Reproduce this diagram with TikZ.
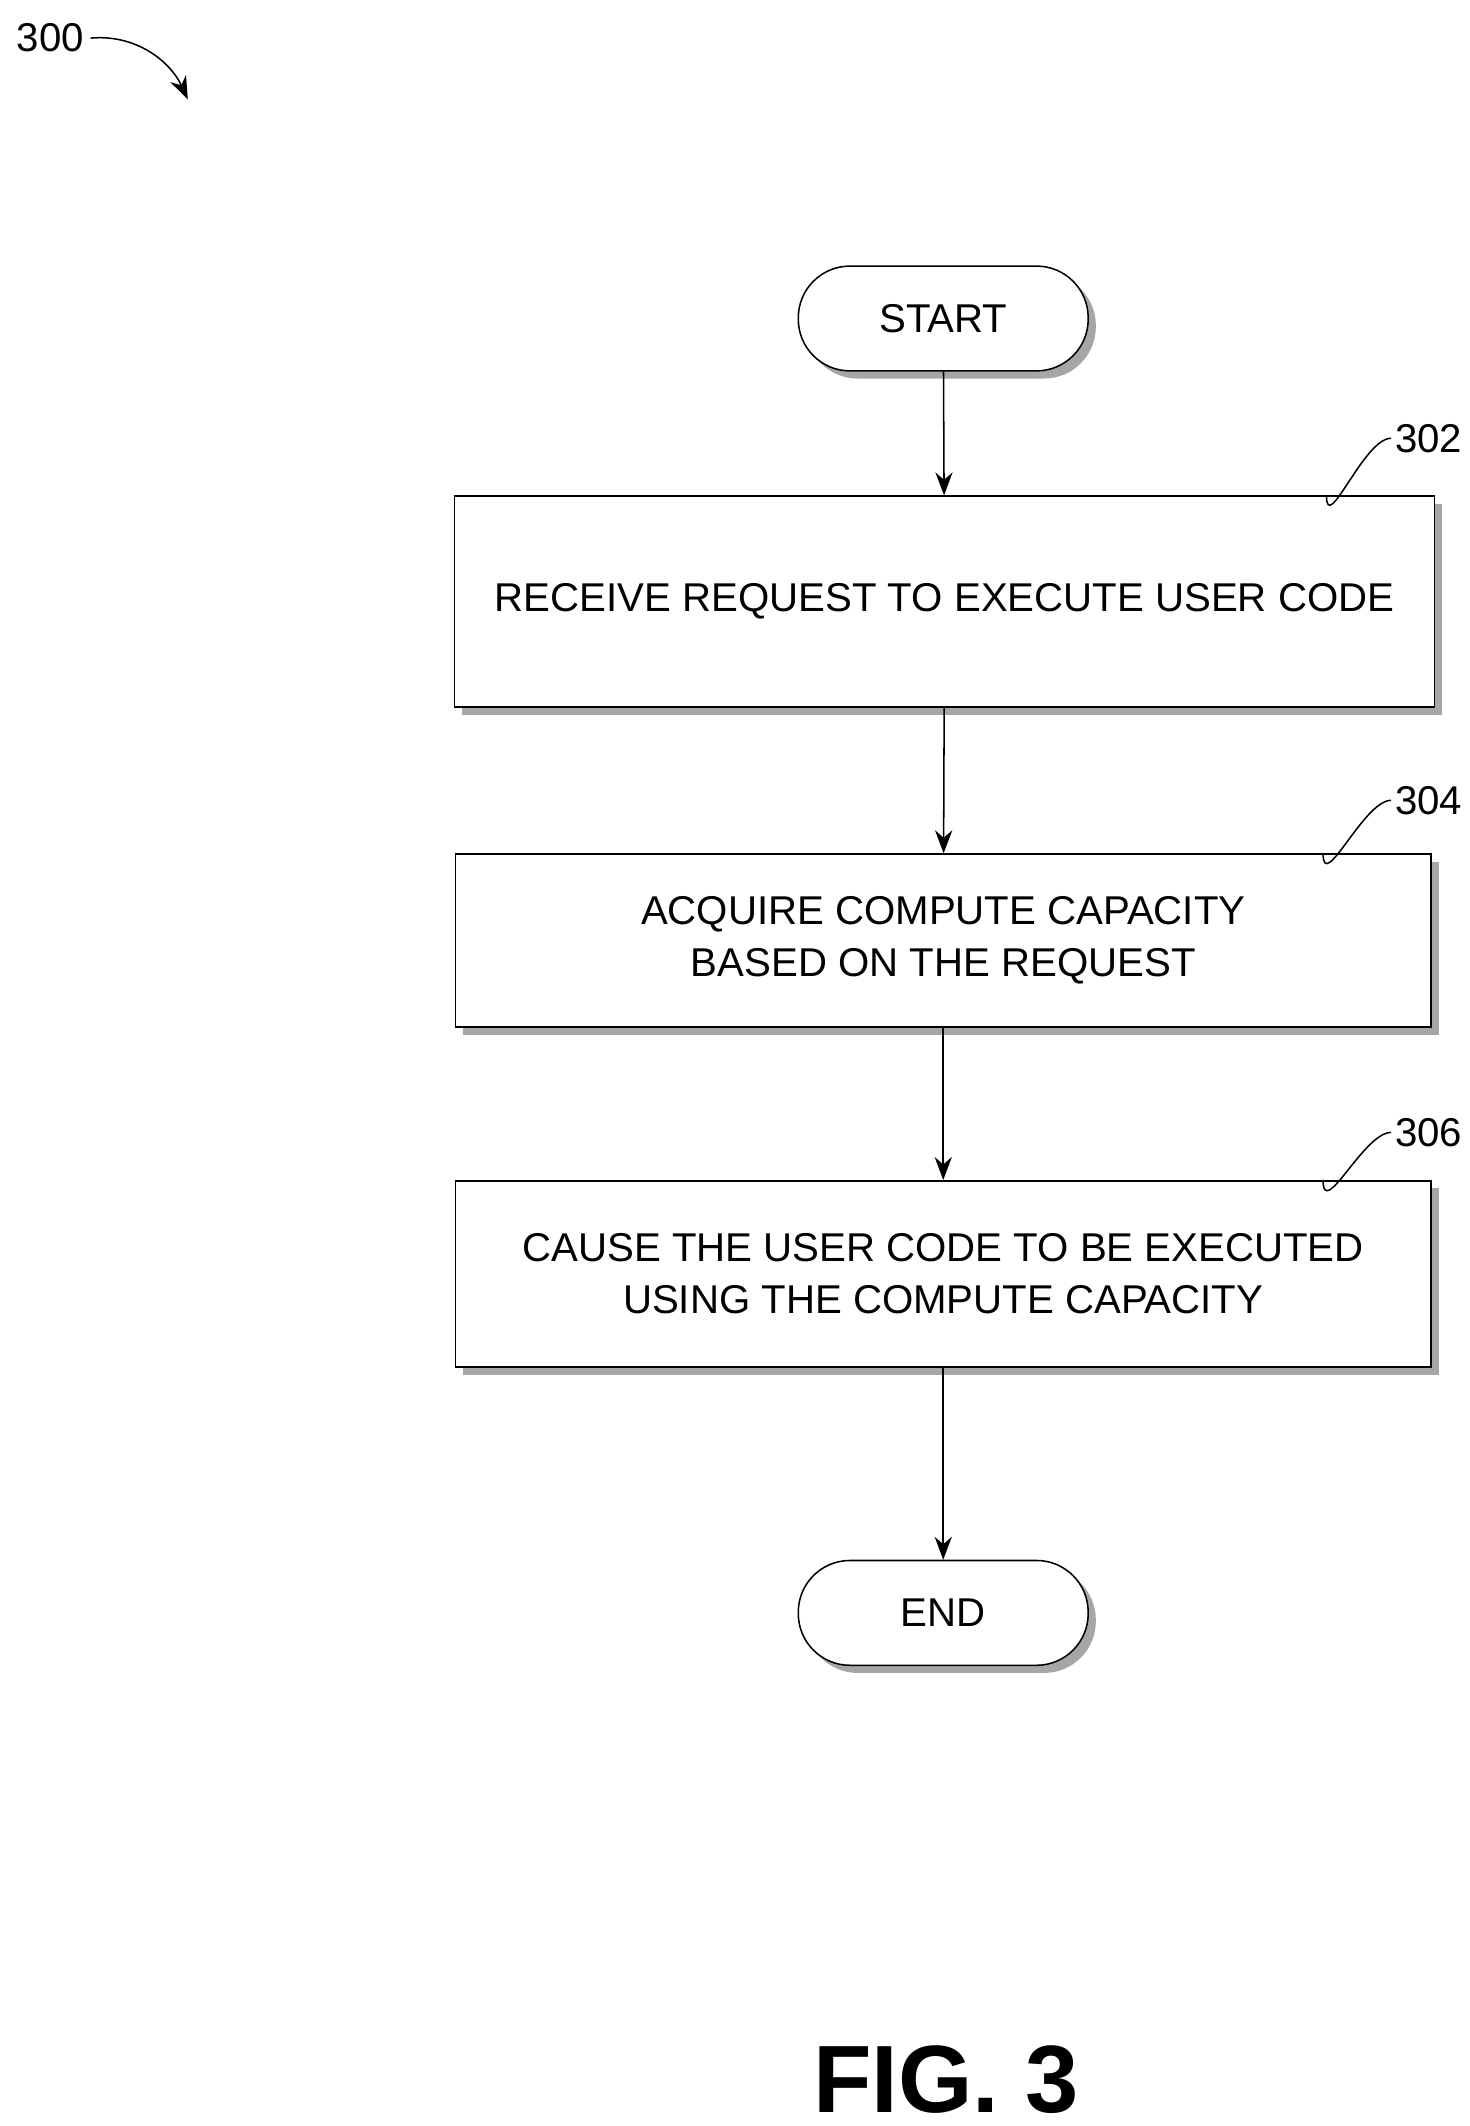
\documentclass[tikz,border=0pt]{standalone}
\usepackage{fontspec}
\setmainfont{Liberation Sans}
\usetikzlibrary{arrows.meta,shadows,positioning}

\begin{document}
\begin{tikzpicture}[x=0.025cm, y=-0.025cm,
    every node/.style={font=\fontsize{21}{27}\selectfont},
    procbox/.style={draw, thick, fill=white, align=center, inner sep=0pt,
      drop shadow={shadow xshift=4pt, shadow yshift=-4pt, fill=gray!70, opacity=1}},
    term/.style={procbox, rounded corners=27pt, minimum width=213*0.025cm, minimum height=77*0.025cm},
    flow/.style={-{Stealth[length=12pt,width=9pt]}, thick},
    lead/.style={thick}]
  \useasboundingbox (0,0) rectangle (1080,1562);
  % fixed reference
  \node (ref300) at (37,28) {300};
  \coordinate (ref300a) at (138,73);
  \draw[flow] (ref300.east) .. controls (100,25) and (125,45) .. (ref300a);
  % steps
  \node[term] (start) at (693,234) {START};
  \node[procbox, minimum width=720*0.025cm, minimum height=155*0.025cm] (s302) at (694,442) {RECEIVE REQUEST TO EXECUTE USER CODE};
  \node[procbox, minimum width=717*0.025cm, minimum height=127*0.025cm] (s304) at (693,691) {ACQUIRE COMPUTE CAPACITY\\BASED ON THE REQUEST};
  \node[procbox, minimum width=717*0.025cm, minimum height=137*0.025cm] (s306) at (693,936) {CAUSE THE USER CODE TO BE EXECUTED\\USING THE COMPUTE CAPACITY};
  \node[term] (end) at (693,1185) {END};
  % arrows
  \draw[flow] (start) -- (s302);
  \draw[flow] (s302) -- (s304);
  \draw[flow] (s304) -- (s306);
  \draw[flow] (s306) -- (end);
  % reference labels
  \foreach \lbl/\yy/\stp in {302/322/s302, 304/588/s304, 306/832/s306} {
    \node[anchor=west, inner sep=2pt] (l\lbl) at (1022,\yy) {\lbl};
    \draw[lead] ([xshift=-80*0.025cm]\stp.north east) .. controls +(0,-30*0.025cm) and +(-20*0.025cm,0) .. (l\lbl.west);
  }
  \node[font=\fontsize{50}{55}\selectfont\bfseries] (fig) at (695,1528) {FIG. 3};
\end{tikzpicture}
\end{document}
